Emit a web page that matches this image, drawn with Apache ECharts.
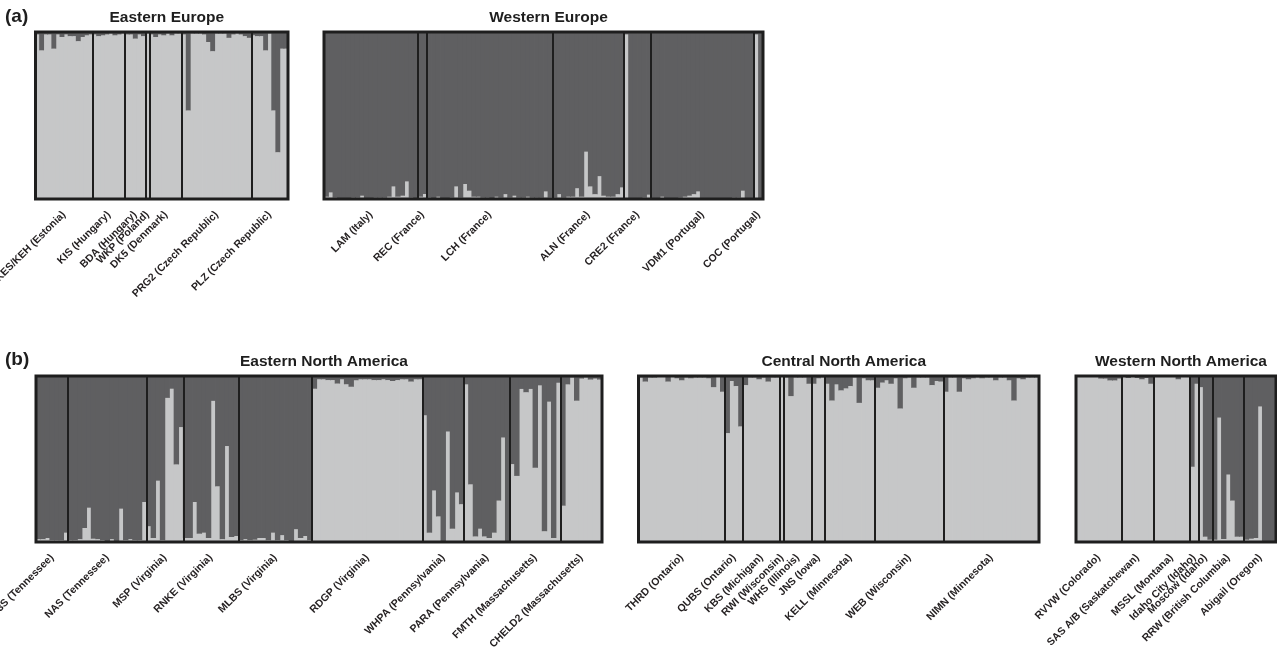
<!DOCTYPE html>
<html>
<head>
<meta charset="utf-8">
<script src="https://cdn.jsdelivr.net/npm/echarts@6/dist/echarts.min.js"></script>
<style>
  html, body { margin: 0; padding: 0; background: #fff; }
  #chart { width: 1277px; height: 667px; }
</style>
</head>
<body>
<div id="chart"></div>
<script>
// ---- data: light-cluster membership per individual, one array per population ----
const eeNames = ['KES/KEH (Estonia)', 'KIS (Hungary)', 'BDA (Hungary)', 'WKP (Poland)', 'DK5 (Denmark)', 'PRG2 (Czech Republic)', 'PLZ (Czech Republic)']
const eeLight = [
  [0.985, 0.89, 0.985, 0.985, 0.90, 0.985, 0.97, 0.985, 0.975, 0.975, 0.945, 0.97, 0.98, 0.985],
  [0.985, 0.975, 0.98, 0.985, 0.99, 0.98, 0.985, 0.99],
  [0.985, 0.985, 0.96, 0.985, 0.975],
  [0.99],
  [0.985, 0.97, 0.985, 0.98, 0.99, 0.98, 0.99, 0.99],
  [0.985, 0.53, 0.99, 0.99, 0.99, 0.985, 0.94, 0.885, 0.99, 0.99, 0.99, 0.965, 0.985, 0.99, 0.985, 0.975, 0.965],
  [0.98, 0.975, 0.975, 0.89, 0.99, 0.53, 0.28, 0.90, 0.90]
]

const weNames = ['LAM (Italy)', 'REC (France)', 'LCH (France)', 'ALN (France)', 'CRE2 (France)', 'VDM1 (Portugal)', 'COC (Portugal)']
const weLight = [
  [0.014, 0.039, 0.008, 0.004, 0.004, 0.006, 0.008, 0.008, 0.02, 0.004, 0.004, 0.008, 0.008, 0.008, 0.014, 0.075, 0.014, 0.02, 0.105, 0.008, 0.004],
  [0.014, 0.03],
  [0.008, 0.004, 0.014, 0.004, 0.004, 0.008, 0.075, 0.008, 0.09, 0.05, 0.014, 0.014, 0.008, 0.008, 0.004, 0.014, 0.008, 0.028, 0.008, 0.02, 0.008, 0.008, 0.014, 0.008, 0.008, 0.008, 0.045, 0.008],
  [0.008, 0.028, 0.008, 0.014, 0.014, 0.065, 0.014, 0.283, 0.075, 0.028, 0.136, 0.02, 0.014, 0.014, 0.028, 0.069],
  [0.985, 0.004, 0.004, 0.004, 0.008, 0.025],
  [0.004, 0.004, 0.014, 0.004, 0.004, 0.004, 0.008, 0.014, 0.02, 0.028, 0.045, 0.004, 0.004, 0.004, 0.004, 0.004, 0.004, 0.004, 0.008, 0.008, 0.05, 0.004, 0.004],
  [0.985, 0.004]
]

const enaNames = ['23S (Tennessee)', 'NAS (Tennessee)', 'MSP (Virginia)', 'RNKE (Virginia)', 'MLBS (Virginia)', 'RDGP (Virginia)', 'WHPA (Pennsylvania)', 'PARA (Pennsylvania)', 'FMTH (Massachusetts)', 'CHELD2 (Massachusetts)']
const enaLight = [
  [0.016, 0.016, 0.024, 0.01, 0.01, 0.01, 0.055],
  [0.01, 0.01, 0.016, 0.085, 0.207, 0.02, 0.016, 0.01, 0.006, 0.016, 0.006, 0.2, 0.01, 0.016, 0.01, 0.01, 0.241],
  [0.095, 0.024, 0.369, 0.01, 0.868, 0.923, 0.467, 0.692],
  [0.024, 0.024, 0.241, 0.05, 0.055, 0.024, 0.85, 0.335, 0.016, 0.578, 0.03, 0.036],
  [0.01, 0.016, 0.01, 0.014, 0.024, 0.024, 0.01, 0.055, 0.01, 0.04, 0.01, 0.006, 0.077, 0.024, 0.036, 0.01],
  [0.923, 0.98, 0.98, 0.975, 0.975, 0.954, 0.98, 0.95, 0.935, 0.974, 0.98, 0.98, 0.98, 0.975, 0.975, 0.98, 0.975, 0.97, 0.975, 0.98, 0.98, 0.966, 0.98, 0.98],
  [0.763, 0.055, 0.31, 0.153, 0.004, 0.665, 0.08, 0.298, 0.227],
  [0.949, 0.347, 0.033, 0.08, 0.033, 0.024, 0.055, 0.249, 0.629, 0.004],
  [0.469, 0.398, 0.922, 0.902, 0.922, 0.447, 0.943, 0.065, 0.845, 0.024, 0.959],
  [0.218, 0.949, 0.99, 0.851, 0.984, 0.99, 0.978, 0.984, 0.978]
]

const cnaNames = ['THRD (Ontario)', 'QUBS (Ontario)', 'KBS (Michigan)', 'RWI (Wisconsin)', 'WHS (Illinois)', 'JNS (Iowa)', 'KELL (Minnesota)', 'WEB (Wisconsin)', 'NIMN (Minnesota)']
const cnaLight = [
  [0.99, 0.966, 0.99, 0.99, 0.994, 0.994, 0.966, 0.994, 0.986, 0.974, 0.99, 0.986, 0.99, 0.99, 0.99, 0.986, 0.933, 0.994, 0.905],
  [0.656, 0.97, 0.939, 0.696],
  [0.945, 0.99, 0.99, 0.98, 0.99, 0.966, 0.99, 0.99],
  [0.994],
  [0.99, 0.879, 0.99, 0.99, 0.99, 0.953],
  [0.953, 0.986, 0.99],
  [0.953, 0.852, 0.949, 0.913, 0.925, 0.939, 0.99, 0.838, 0.986, 0.974, 0.974],
  [0.929, 0.96, 0.974, 0.953, 0.986, 0.804, 0.986, 0.99, 0.929, 0.99, 0.99, 0.99, 0.945, 0.97, 0.966],
  [0.905, 0.99, 0.99, 0.905, 0.986, 0.98, 0.986, 0.99, 0.986, 0.99, 0.99, 0.974, 0.99, 0.99, 0.974, 0.852, 0.986, 0.98, 0.99, 0.99, 0.99]
]

const wnaNames = ['RVVW (Colorado)', 'SAS A/B (Saskatchewan)', 'MSSL (Montana)', 'Idaho City (Idaho)', 'Moscow (Idaho)', 'RRW (British Columbia)', 'Abigail (Oregon)']
const wnaLight = [
  [0.994, 0.994, 0.994, 0.994, 0.994, 0.984, 0.984, 0.973, 0.973, 0.984],
  [0.994, 0.988, 0.994, 0.988, 0.98, 0.988, 0.953],
  [0.994, 0.994, 0.994, 0.994, 0.994, 0.98, 0.994, 0.994],
  [0.453, 0.953],
  [0.933, 0.031, 0.014],
  [0.014, 0.749, 0.018, 0.406, 0.249, 0.031, 0.031],
  [0.014, 0.02, 0.024, 0.816, 0.004, 0.004, 0.004]
]

const LIGHT = '#c6c7c8'
const DARK = '#5f5f61'
const INK = '#1e1e1e'
const FONT = '"Liberation Sans", Arial, sans-serif'

// 每个面板：标题、数据、网格位置
const panels = [
  { title: 'Eastern Europe', names: eeNames, light: eeLight, left: 35.5, top: 32, width: 252.5, height: 167 },
  { title: 'Western Europe', names: weNames, light: weLight, left: 324, top: 32, width: 439, height: 167 },
  { title: 'Eastern North America', names: enaNames, light: enaLight, left: 36, top: 376, width: 566, height: 166 },
  { title: 'Central North America', names: cnaNames, light: cnaLight, left: 638.5, top: 376, width: 400.5, height: 166 },
  { title: 'Western North America', names: wnaNames, light: wnaLight, left: 1076, top: 376, width: 200, height: 166 }
]

const option = {
  animation: false,
  backgroundColor: '#fff',
  title: [
    { text: '(a)', left: 0, top: 2, textStyle: { fontSize: 19, fontWeight: 'bold', color: INK, fontFamily: FONT } },
    { text: '(b)', left: 0, top: 345, textStyle: { fontSize: 19, fontWeight: 'bold', color: INK, fontFamily: FONT } }
  ],
  grid: [],
  xAxis: [],
  yAxis: [],
  series: []
}

panels.forEach((p, i) => {
  const lightFlat = p.light.flat()
  const n = lightFlat.length
  const bounds = []
  const centers = []
  let acc = 0
  p.light.forEach(pop => {
    centers.push(acc + pop.length / 2)
    acc += pop.length
    bounds.push(acc)
  })
  bounds.pop()

  option.title.push({
    text: p.title,
    left: p.left + p.width / 2,
    top: p.top - 27,
    textAlign: 'center',
    textStyle: { fontSize: 15.5, fontWeight: 'bold', color: INK, fontFamily: FONT }
  })

  option.grid.push({
    left: p.left, top: p.top, width: p.width, height: p.height,
    containLabel: false, outerBoundsMode: 'none',
    show: true, borderColor: INK, borderWidth: 3, backgroundColor: 'transparent', z: 10
  })

  option.xAxis.push({
    type: 'category', gridIndex: i, show: false, boundaryGap: true,
    data: lightFlat.map((_, k) => String(k))
  })
  option.xAxis.push({
    type: 'value', gridIndex: i, min: 0, max: n, position: 'bottom',
    axisLine: { show: false }, axisTick: { show: false }, splitLine: { show: false },
    axisLabel: {
      customValues: centers,
      rotate: 45,
      margin: 14,
      fontSize: 10.5,
      fontWeight: 'bold',
      color: '#231f20',
      fontFamily: FONT,
      formatter: v => {
        let best = 0
        centers.forEach((c, k) => { if (Math.abs(c - v) < Math.abs(centers[best] - v)) best = k })
        return p.names[best]
      }
    }
  })
  option.yAxis.push({ type: 'value', gridIndex: i, min: 0, max: 1, show: false })

  // 柱子略宽于类目，避免相邻柱之间的缝隙
  const barBase = {
    type: 'bar', stack: 'q' + i, xAxisIndex: 2 * i, yAxisIndex: i,
    barWidth: p.width / n + 0.8, barGap: '-100%', silent: true
  }
  option.series.push(Object.assign({}, barBase, {
    name: 'light' + i,
    data: lightFlat,
    itemStyle: { color: LIGHT }
  }))
  option.series.push(Object.assign({}, barBase, {
    name: 'dark' + i,
    data: lightFlat.map(v => +(1 - v).toFixed(3)),
    itemStyle: { color: DARK }
  }))
  // 种群分隔线
  option.series.push({
    type: 'line', xAxisIndex: 2 * i + 1, yAxisIndex: i,
    data: [[0, 0]], symbol: 'none', lineStyle: { width: 0, opacity: 0 }, silent: true,
    markLine: {
      silent: true, symbol: ['none', 'none'], label: { show: false },
      lineStyle: { color: INK, width: 2, type: 'solid' },
      data: bounds.map(b => ({ xAxis: b }))
    },
    z: 5
  })
})

const chart = echarts.init(document.getElementById('chart'))
chart.setOption(option)
</script>
</body>
</html>
